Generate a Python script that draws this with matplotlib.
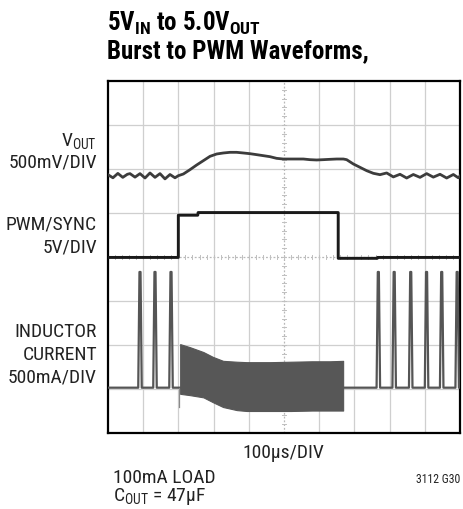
import matplotlib
matplotlib.use('Agg')
import matplotlib.pyplot as plt
from matplotlib import font_manager as fm
import numpy as np

names = {f.name for f in fm.fontManager.ttflist}
fam = next((n for n in ['Liberation Sans Narrow', 'DejaVu Sans Condensed',
                        'Roboto Condensed', 'Liberation Sans'] if n in names), 'DejaVu Sans')
plt.rcParams['font.family'] = [fam, 'DejaVu Sans']
plt.rcParams['mathtext.fontset'] = 'custom'
plt.rcParams['mathtext.rm'] = fam
plt.rcParams['mathtext.bf'] = fam + ':bold'

# ---------------- data (in scope divisions) ----------------
vout_x = [0.0, 0.14, 0.28, 0.42, 0.55, 0.625, 0.767, 0.909, 1.051, 1.193, 1.335, 1.477,
          1.619, 1.761, 1.903, 1.998, 2.140, 2.330, 2.519, 2.708, 2.898, 3.087, 3.277,
          3.466, 3.655, 3.845, 4.034, 4.223, 4.413, 4.602, 4.792, 4.981, 5.170, 5.360,
          5.549, 5.739, 5.928, 6.117, 6.307, 6.496, 6.686, 6.780, 6.970, 7.159, 7.348,
          7.538, 7.727, 7.917, 8.106, 8.295, 8.485, 8.674, 8.864, 9.053, 9.242, 9.432,
          9.621, 9.811, 9.953, 10.0]
vout_y = [5.87, 5.80, 5.90, 5.81, 5.88, 5.895, 5.815, 5.895, 5.795, 5.91, 5.81, 5.895,
          5.775, 5.875, 5.80, 5.848, 5.886, 5.985, 6.091, 6.189, 6.288, 6.341, 6.364,
          6.379, 6.379, 6.364, 6.348, 6.326, 6.303, 6.280, 6.242, 6.227, 6.227, 6.227,
          6.227, 6.212, 6.205, 6.212, 6.220, 6.227, 6.227, 6.212, 6.114, 6.038, 5.962,
          5.902, 5.871, 5.910, 5.820, 5.880, 5.795, 5.875, 5.810, 5.895, 5.815, 5.880,
          5.795, 5.875, 5.800, 5.840]

pwm_x = [0.0, 1.998, 1.998, 2.55, 2.56, 6.54, 6.54, 7.65, 7.66, 10.0]
pwm_y = [3.99, 3.99, 4.95, 4.95, 5.01, 5.01, 3.97, 3.97, 3.99, 3.99]

il_base = 1.03
il_peak = 3.66
spike_x = [0.909, 1.335, 1.790, 7.68, 8.13, 8.60, 9.05, 9.48, 9.92]

band_x = [2.05, 2.33, 2.71, 2.98, 3.27, 3.66, 3.94, 4.60, 5.20, 5.80, 6.30, 6.68]
band_hi = [2.02, 1.95, 1.84, 1.73, 1.64, 1.62, 1.61, 1.61, 1.62, 1.63, 1.63, 1.64]
band_lo = [0.89, 0.86, 0.81, 0.70, 0.59, 0.52, 0.50, 0.50, 0.50, 0.51, 0.51, 0.51]

# ---------------- figure ----------------
W, H = 464, 510
fig = plt.figure(figsize=(W / 100, H / 100), dpi=100)
ax = fig.add_axes([108 / W, 76 / H, 352 / W, 352 / H])
ax.set_xlim(0, 10)
ax.set_ylim(0, 8)
ax.set_xticks([])
ax.set_yticks([])
for s in ax.spines.values():
    s.set_linewidth(1.6)
    s.set_color('black')

grid_c = '#cfcfcf'
for i in range(1, 10):
    if i != 5:
        ax.axvline(i, color=grid_c, lw=0.9, zorder=1)
for j in range(1, 8):
    if j != 4:
        ax.axhline(j, color=grid_c, lw=0.9, zorder=1)
ax.axvline(5, color='#b8b8b8', lw=0.9, ls=(0, (1.5, 1.5)), zorder=1)
ax.axhline(4, color='#b8b8b8', lw=0.9, ls=(0, (1.5, 1.5)), zorder=1)
for t in np.arange(0.2, 8, 0.2):
    ax.plot([4.95, 5.05], [t, t], color='#c0c0c0', lw=0.7, zorder=1)
for t in np.arange(0.2, 10, 0.2):
    ax.plot([t, t], [3.96, 4.04], color='#c0c0c0', lw=0.7, zorder=1)

# VOUT trace
ax.plot(vout_x, vout_y, color='#3c3c3c', lw=2.0, zorder=3)

# PWM/SYNC trace
ax.plot(pwm_x, pwm_y, color='#1a1a1a', lw=2.1, zorder=3)

# Inductor current: baseline with burst spikes
cx, cy = [0.0], [il_base]
for xs in spike_x[:3]:
    cx += [xs - 0.05, xs - 0.015, xs + 0.015, xs + 0.05]
    cy += [il_base, il_peak, il_peak, il_base]
cx += [band_x[0]]
cy += [il_base]
ax.plot(cx, cy, color='#555555', lw=1.6, zorder=3)
ax.plot([band_x[0] - 0.02, band_x[0] - 0.02], [il_base, 0.6], color='#8a8a8a', lw=0.9, zorder=3)

cx2, cy2 = [band_x[-1]], [il_base]
for xs in spike_x[3:]:
    cx2 += [xs - 0.05, xs - 0.015, xs + 0.015, xs + 0.05]
    cy2 += [il_base, il_peak, il_peak, il_base]
cx2 += [10.0]
cy2 += [il_base]
ax.plot(cx2, cy2, color='#555555', lw=1.6, zorder=3)

ax.fill_between(band_x, band_lo, band_hi, color='#575757', lw=0.8,
                edgecolor='#575757', zorder=3)

# ---------------- text ----------------
def ftext(px, py, s, **kw):
    fig.text(px / W, 1 - py / H, s, va='baseline', **kw)

ftext(107, 31, r'5V$\mathbf{_{IN}}$ to 5.0V$\mathbf{_{OUT}}$', fontsize=18,
      fontweight='bold', ha='left')
ftext(107, 58, 'Burst to PWM Waveforms,', fontsize=18, fontweight='bold', ha='left')

lab = dict(fontsize=14, ha='right', color='#222222')
ftext(97, 147, r'V$_{\mathrm{OUT}}$', **lab)
ftext(97, 168, '500mV/DIV', **lab)
ftext(97, 230, 'PWM/SYNC', **lab)
ftext(97, 252, '5V/DIV', **lab)
ftext(97, 337, 'INDUCTOR', **lab)
ftext(97, 360, 'CURRENT', **lab)
ftext(97, 383, '500mA/DIV', **lab)

ftext(283, 458, '100µs/DIV', fontsize=14, ha='center', color='#222222')
ftext(113, 483, '100mA LOAD', fontsize=14, ha='left', color='#222222')
ftext(113, 501, r'C$_{\mathrm{OUT}}$ = 47µF', fontsize=14, ha='left', color='#222222')
ftext(460, 483, '3112 G30', fontsize=8.5, ha='right', color='#222222')

fig.savefig('out.png', dpi=100)
